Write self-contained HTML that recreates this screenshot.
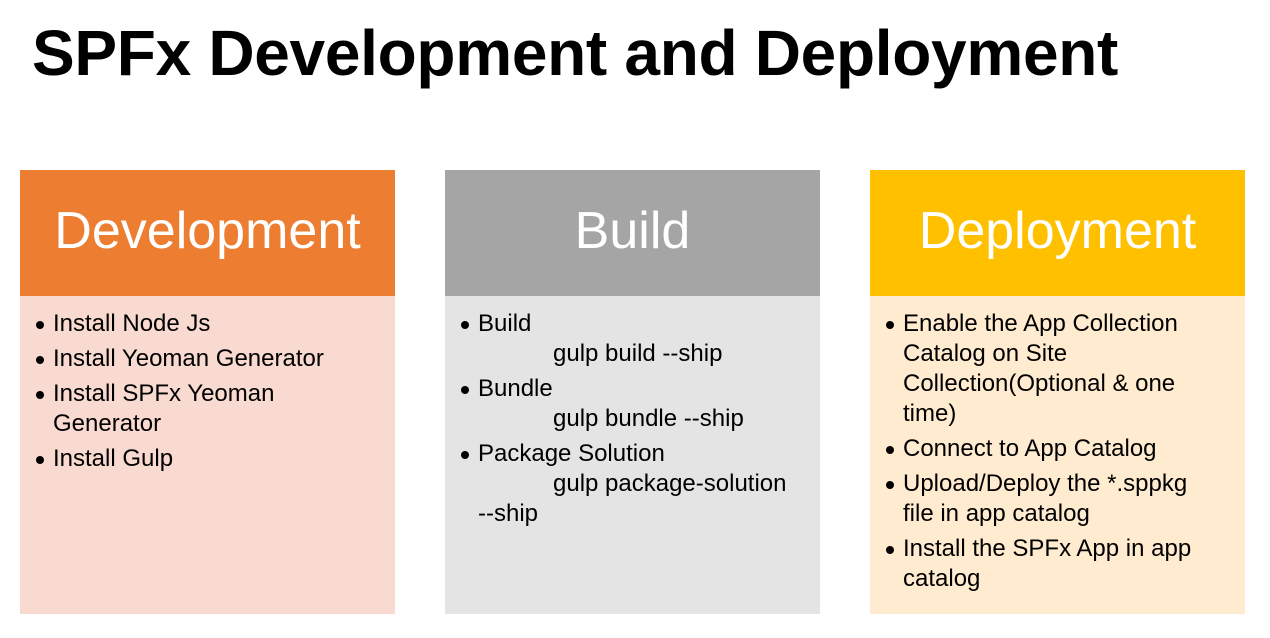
<!DOCTYPE html>
<html><head><meta charset="utf-8"><style>
body{margin:0;width:1270px;height:638px;background:#fff;position:relative;overflow:hidden;font-family:"Liberation Sans","DejaVu Sans",sans-serif;}
.t{position:absolute;left:32px;top:16px;font-size:64px;font-weight:bold;color:#000;white-space:nowrap;letter-spacing:-0.3px;}
.h{position:absolute;top:170px;width:375px;height:126px;color:#fff;font-size:52px;text-align:center;line-height:122px;}
.b{position:absolute;top:296px;width:375px;height:318px;font-size:24px;line-height:30px;color:#000;}
ul{margin:0;padding:13px 37px 0 33px;list-style:none;}
li{position:relative;}
li:before{content:"";position:absolute;left:-17px;top:12px;width:8px;height:8px;border-radius:50%;background:#000;}
.i{padding-left:75px;white-space:nowrap;}
</style></head><body>
<div class="t">SPFx Development and Deployment</div>
<div class="h" style="left:20px;background:#ED7D31">Development</div>
<div class="b" style="left:20px;background:#F9DAD0"><ul style="padding-right:60px">
<li>Install Node Js</li><li style="margin-top:5px">Install Yeoman Generator</li><li style="margin-top:5px">Install SPFx Yeoman Generator</li><li style="margin-top:5px">Install Gulp</li></ul></div>
<div class="h" style="left:445px;background:#A5A5A5">Build</div>
<div class="b" style="left:445px;background:#E4E4E4"><ul>
<li>Build<div class="i">gulp build --ship</div></li>
<li style="margin-top:5px">Bundle<div class="i">gulp bundle --ship</div></li>
<li style="margin-top:5px">Package Solution<div class="i">gulp package-solution</div></li></ul>
<div style="padding-left:33px">--ship</div></div>
<div class="h" style="left:870px;background:#FFC000">Deployment</div>
<div class="b" style="left:870px;background:#FFEBCF"><ul>
<li>Enable the App Collection Catalog on Site Collection(Optional &amp; one time)</li>
<li style="margin-top:5px">Connect to App Catalog</li>
<li style="margin-top:5px">Upload/Deploy the *.sppkg file in app catalog</li>
<li style="margin-top:5px">Install the SPFx App in app catalog</li></ul></div>
</body></html>
